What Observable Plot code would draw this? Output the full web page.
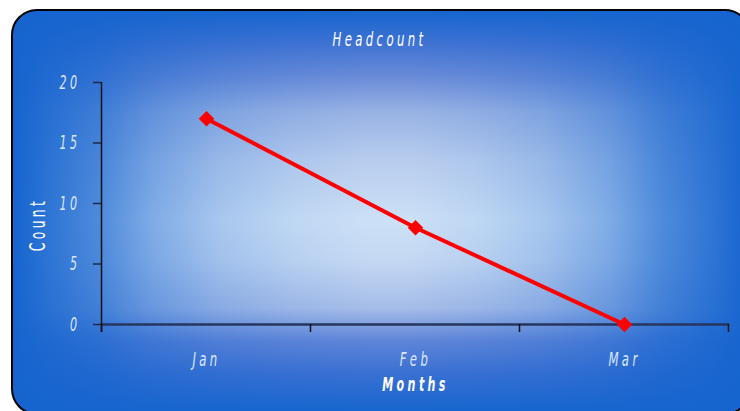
<!DOCTYPE html>
<html>
<head>
<meta charset="utf-8">
<script src="https://cdn.jsdelivr.net/npm/d3@7"></script>
<script src="https://cdn.jsdelivr.net/npm/@observablehq/plot@0.6"></script>
<style>
  html, body { margin: 0; padding: 0; background: #fff; }
  #wrap { position: relative; width: 740px; height: 411px; overflow: hidden; }
  #panel {
    position: absolute; left: 11px; top: 9px; width: 736px; height: 402px;
    border: 2px solid #000; border-radius: 26px;
    background:
      linear-gradient(to right,
        rgba(21,100,207,1) 0%, rgba(21,100,207,0.86) 5%, rgba(21,100,207,0.68) 12%,
        rgba(21,100,207,0.42) 19%, rgba(21,100,207,0.2) 28%, rgba(21,100,207,0.07) 38%,
        rgba(21,100,207,0) 48%, rgba(21,100,207,0) 54%,
        rgba(21,100,207,0.07) 63%, rgba(21,100,207,0.2) 72%, rgba(21,100,207,0.42) 81%,
        rgba(21,100,207,0.68) 88%, rgba(21,100,207,0.86) 95%, rgba(21,100,207,1) 100%),
      linear-gradient(to bottom,
        #1565cf 0%, #3f72d2 8%, #6a8cd8 16.5%, #98b2e4 25%, #b8cdee 37%, #cce0f6 52%,
        #c4d8f3 62%, #a5bce8 74%, #5f85d8 82%, #3a70d2 90%, #1565cf 100%);
  }
  #chart { position: absolute; left: 0; top: 0; }
  #chart svg { background: transparent; overflow: visible; }
  #chart text { font-family: "Liberation Sans Narrow", "Arial Narrow", "DejaVu Sans Condensed", sans-serif; }
</style>
</head>
<body>
<div id="wrap">
  <div id="panel"></div>
  <div id="chart"></div>
</div>
<script>
// Monthly headcount
const months = ["Jan", "Feb", "Mar"];
const counts = [17, 8, 0];
const yTicks = [0, 5, 10, 15, 20];
const chartTitle = "Headcount";
const xTitle = "Months";
const yTitle = "Count";

const data = months.map((m, i) => ({month: m, count: counts[i]}));

const labelFill = "#dbe6f8";
const narrow = 0.65;      // horizontal squeeze for a condensed look
const tracking = "5.2px"; // letter spacing before the squeeze

// Axis lines and the category boundary ticks, placed from the scales
function axisLines(index, scales, values, dimensions) {
  const g = d3.create("svg:g");
  const p = months.map((m) => scales.x(m));
  const step = p[1] - p[0];
  const edges = [p[0] - step / 2, ...p.map((v) => v + step / 2)];
  const y0 = scales.y(0);
  g.append("line")
    .attr("x1", edges[0]).attr("x2", edges[0])
    .attr("y1", scales.y(20)).attr("y2", y0 + 8)
    .attr("stroke", "#111").attr("stroke-width", 1.5);
  for (const e of edges) {
    g.append("line")
      .attr("x1", e).attr("x2", e)
      .attr("y1", y0).attr("y2", y0 + 8)
      .attr("stroke", "#111").attr("stroke-width", 1.5);
  }
  return g.node();
}

const chart = Plot.plot({
  width: 740,
  height: 411,
  marginTop: 82,
  marginLeft: 101,
  marginRight: 11,
  marginBottom: 87,
  style: {background: "transparent", fontSize: "19px"},
  x: {type: "point", domain: months, padding: 0.5},
  y: {domain: [0, 20]},
  marks: [
    Plot.axisY({
      ticks: yTicks, tickSize: 8, tickPadding: 13, stroke: "#1e2a4a", strokeWidth: 1.5,
      fill: labelFill, fontStyle: "italic", label: null,
      fontSize: 19
    }),
    Plot.axisX({
      tickSize: 0, tickPadding: 27, fill: labelFill, fontStyle: "italic", label: null,
      fontSize: 20
    }),
    Plot.ruleY([0], {stroke: "#26365e", strokeWidth: 2.5}),
    axisLines,
    Plot.line(data, {x: "month", y: "count", stroke: "#ff0000", strokeWidth: 4}),
    Plot.dot(data, {x: "month", y: "count", symbol: "diamond2", r: 7, fill: "#ff0000", stroke: "none"}),
    Plot.text([chartTitle], {
      frameAnchor: "top", lineAnchor: "middle", dx: -36, dy: -43,
      fill: "#ffffff", fontStyle: "italic", fontSize: 20
    }),
    Plot.text([yTitle], {
      frameAnchor: "left", textAnchor: "middle", lineAnchor: "middle", dx: -63, dy: 21, rotate: -90,
      fill: "#ffffff", fontSize: 21
    }),
    Plot.text([xTitle], {
      frameAnchor: "bottom", lineAnchor: "middle", dx: 0, dy: 60,
      fill: "#ffffff", fontStyle: "italic", fontSize: 19, fontWeight: "bold"
    })
  ]
});

// Condense every label horizontally about its own anchor point
d3.select(chart).selectAll("text").each(function () {
  const t = d3.select(this);
  const x = +t.attr("x") || 0;
  const y = +t.attr("y") || 0;
  const base = t.attr("transform") || "";
  t.style("letter-spacing", tracking)
   .attr("transform", `${base} translate(${x},${y}) scale(${narrow},1) translate(${-x},${-y})`);
});
document.getElementById("chart").appendChild(chart);
</script>
</body>
</html>
